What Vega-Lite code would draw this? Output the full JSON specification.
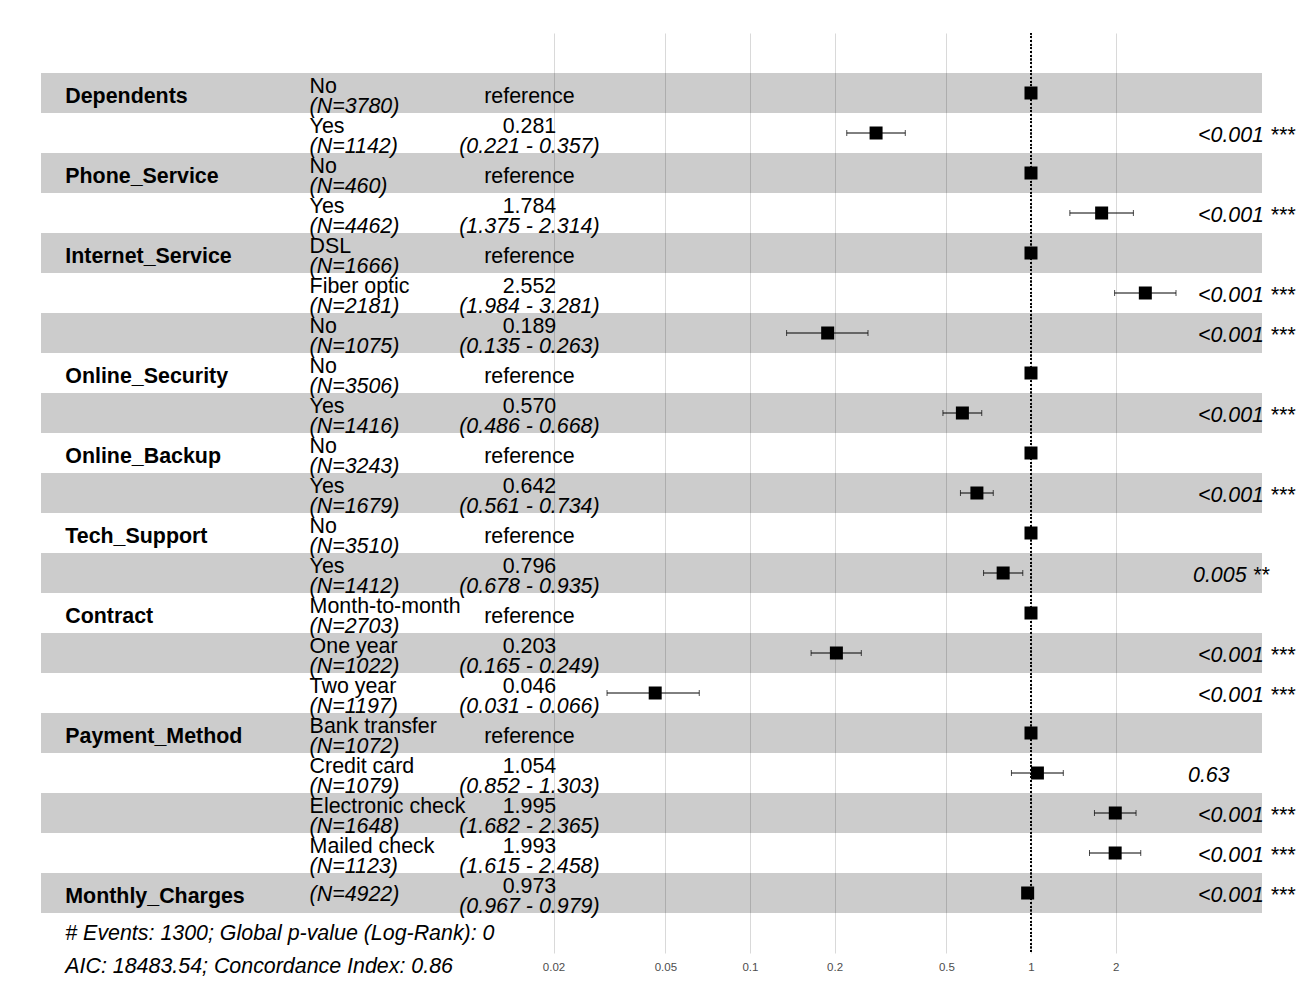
{
  "$schema": "https://vega.github.io/schema/vega-lite/v6.json",
  "autosize": {"type": "none"},
  "padding": {"left": 41, "top": 33, "right": 38, "bottom": 47},
  "width": 1221,
  "height": 920,
  "background": "white",
  "config": {
    "view": {"stroke": null},
    "font": "Liberation Sans",
    "text": {"font": "Liberation Sans", "fontSize": 21.4, "color": "black", "baseline": "alphabetic"}
  },
  "datasets": {
    "rows": [
      {"term": "Dependents No", "var": "Dependents", "level": "No", "N": "(N=3780)", "hr": 1, "lo": null, "hi": null, "ci": "", "p": ""},
      {"term": "Dependents Yes", "var": "", "level": "Yes", "N": "(N=1142)", "hr": 0.281, "lo": 0.221, "hi": 0.357, "ci": "(0.221 - 0.357)", "p": "<0.001 ***"},
      {"term": "Phone_Service No", "var": "Phone_Service", "level": "No", "N": "(N=460)", "hr": 1, "lo": null, "hi": null, "ci": "", "p": ""},
      {"term": "Phone_Service Yes", "var": "", "level": "Yes", "N": "(N=4462)", "hr": 1.784, "lo": 1.375, "hi": 2.314, "ci": "(1.375 - 2.314)", "p": "<0.001 ***"},
      {"term": "Internet_Service DSL", "var": "Internet_Service", "level": "DSL", "N": "(N=1666)", "hr": 1, "lo": null, "hi": null, "ci": "", "p": ""},
      {"term": "Internet_Service Fiber optic", "var": "", "level": "Fiber optic", "N": "(N=2181)", "hr": 2.552, "lo": 1.984, "hi": 3.281, "ci": "(1.984 - 3.281)", "p": "<0.001 ***"},
      {"term": "Internet_Service No", "var": "", "level": "No", "N": "(N=1075)", "hr": 0.189, "lo": 0.135, "hi": 0.263, "ci": "(0.135 - 0.263)", "p": "<0.001 ***"},
      {"term": "Online_Security No", "var": "Online_Security", "level": "No", "N": "(N=3506)", "hr": 1, "lo": null, "hi": null, "ci": "", "p": ""},
      {"term": "Online_Security Yes", "var": "", "level": "Yes", "N": "(N=1416)", "hr": 0.570, "lo": 0.486, "hi": 0.668, "ci": "(0.486 - 0.668)", "p": "<0.001 ***"},
      {"term": "Online_Backup No", "var": "Online_Backup", "level": "No", "N": "(N=3243)", "hr": 1, "lo": null, "hi": null, "ci": "", "p": ""},
      {"term": "Online_Backup Yes", "var": "", "level": "Yes", "N": "(N=1679)", "hr": 0.642, "lo": 0.561, "hi": 0.734, "ci": "(0.561 - 0.734)", "p": "<0.001 ***"},
      {"term": "Tech_Support No", "var": "Tech_Support", "level": "No", "N": "(N=3510)", "hr": 1, "lo": null, "hi": null, "ci": "", "p": ""},
      {"term": "Tech_Support Yes", "var": "", "level": "Yes", "N": "(N=1412)", "hr": 0.796, "lo": 0.678, "hi": 0.935, "ci": "(0.678 - 0.935)", "p": "0.005 **"},
      {"term": "Contract Month-to-month", "var": "Contract", "level": "Month-to-month", "N": "(N=2703)", "hr": 1, "lo": null, "hi": null, "ci": "", "p": ""},
      {"term": "Contract One year", "var": "", "level": "One year", "N": "(N=1022)", "hr": 0.203, "lo": 0.165, "hi": 0.249, "ci": "(0.165 - 0.249)", "p": "<0.001 ***"},
      {"term": "Contract Two year", "var": "", "level": "Two year", "N": "(N=1197)", "hr": 0.046, "lo": 0.031, "hi": 0.066, "ci": "(0.031 - 0.066)", "p": "<0.001 ***"},
      {"term": "Payment_Method Bank transfer", "var": "Payment_Method", "level": "Bank transfer", "N": "(N=1072)", "hr": 1, "lo": null, "hi": null, "ci": "", "p": ""},
      {"term": "Payment_Method Credit card", "var": "", "level": "Credit card", "N": "(N=1079)", "hr": 1.054, "lo": 0.852, "hi": 1.303, "ci": "(0.852 - 1.303)", "p": "0.63"},
      {"term": "Payment_Method Electronic check", "var": "", "level": "Electronic check", "N": "(N=1648)", "hr": 1.995, "lo": 1.682, "hi": 2.365, "ci": "(1.682 - 2.365)", "p": "<0.001 ***"},
      {"term": "Payment_Method Mailed check", "var": "", "level": "Mailed check", "N": "(N=1123)", "hr": 1.993, "lo": 1.615, "hi": 2.458, "ci": "(1.615 - 2.458)", "p": "<0.001 ***"},
      {"term": "Monthly_Charges", "var": "Monthly_Charges", "level": "", "N": "(N=4922)", "hr": 0.973, "lo": 0.967, "hi": 0.979, "ci": "(0.967 - 0.979)", "p": "<0.001 ***"}
    ],
    "footer": [
      {"note": "# Events: 1300; Global p-value (Log-Rank): 0\nAIC: 18483.54; Concordance Index: 0.86"}
    ]
  },
  "data": {"name": "rows"},
  "layer": [
    {
      "transform": [
        {"window": [{"op": "row_number", "as": "rn"}]},
        {"filter": "datum.rn % 2 == 1"}
      ],
      "mark": {"type": "rect", "fill": "black", "opacity": 0.2},
      "encoding": {
        "x": {
          "datum": 0.0003,
          "type": "quantitative",
          "scale": {"type": "log", "domain": [0.0003, 6.638], "nice": false, "zero": false},
          "axis": {
            "values": [0.02, 0.05, 0.1, 0.2, 0.5, 1, 2],
            "format": "~g",
            "title": null,
            "ticks": false,
            "domain": false,
            "grid": true,
            "gridColor": "#d9d9d9",
            "gridWidth": 1,
            "labelFont": "Liberation Sans",
            "labelFontSize": 11.5,
            "labelColor": "#4d4d4d",
            "labelPadding": 8
          }
        },
        "x2": {"datum": 6.638},
        "y": {
          "field": "term",
          "type": "nominal",
          "sort": null,
          "axis": null,
          "scale": {
            "domain": ["Dependents No", "Dependents Yes", "Phone_Service No", "Phone_Service Yes", "Internet_Service DSL", "Internet_Service Fiber optic", "Internet_Service No", "Online_Security No", "Online_Security Yes", "Online_Backup No", "Online_Backup Yes", "Tech_Support No", "Tech_Support Yes", "Contract Month-to-month", "Contract One year", "Contract Two year", "Payment_Method Bank transfer", "Payment_Method Credit card", "Payment_Method Electronic check", "Payment_Method Mailed check", "Monthly_Charges"],
            "paddingInner": 0,
            "paddingOuter": 1
          }
        }
      }
    },
    {
      "mark": {"type": "rule", "color": "black", "strokeWidth": 1, "strokeDash": [1.2, 2.5]},
      "encoding": {"x": {"datum": 1}}
    },
    {
      "transform": [{"filter": "datum.lo != null"}],
      "mark": {"type": "rule", "color": "black", "strokeWidth": 1},
      "encoding": {
        "x": {"field": "lo", "type": "quantitative"},
        "x2": {"field": "hi"},
        "y": {"field": "term", "type": "nominal", "sort": null}
      }
    },
    {
      "transform": [{"filter": "datum.lo != null"}],
      "mark": {"type": "tick", "color": "black", "thickness": 1, "size": 6, "orient": "vertical"},
      "encoding": {
        "x": {"field": "lo", "type": "quantitative"},
        "y": {"field": "term", "type": "nominal", "sort": null}
      }
    },
    {
      "transform": [{"filter": "datum.lo != null"}],
      "mark": {"type": "tick", "color": "black", "thickness": 1, "size": 6, "orient": "vertical"},
      "encoding": {
        "x": {"field": "hi", "type": "quantitative"},
        "y": {"field": "term", "type": "nominal", "sort": null}
      }
    },
    {
      "mark": {"type": "square", "filled": true, "color": "black", "size": 169, "opacity": 1},
      "encoding": {
        "x": {"field": "hr", "type": "quantitative"},
        "y": {"field": "term", "type": "nominal", "sort": null}
      }
    },
    {
      "transform": [{"filter": "datum.var != ''"}],
      "mark": {"type": "text", "fontWeight": "bold", "align": "left", "dy": 10},
      "encoding": {
        "x": {"datum": 0.000366},
        "y": {"field": "term", "type": "nominal", "sort": null},
        "text": {"field": "var"}
      }
    },
    {
      "transform": [{"filter": "datum.level != ''"}],
      "mark": {"type": "text", "align": "left", "dy": -0.5},
      "encoding": {
        "x": {"datum": 0.00271},
        "y": {"field": "term", "type": "nominal", "sort": null},
        "text": {"field": "level"}
      }
    },
    {
      "transform": [{"filter": "datum.level != ''"}],
      "mark": {"type": "text", "align": "left", "fontStyle": "italic", "dy": 19.5},
      "encoding": {
        "x": {"datum": 0.00271},
        "y": {"field": "term", "type": "nominal", "sort": null},
        "text": {"field": "N"}
      }
    },
    {
      "transform": [{"filter": "datum.level == ''"}],
      "mark": {"type": "text", "align": "left", "fontStyle": "italic", "dy": 8},
      "encoding": {
        "x": {"datum": 0.00271},
        "y": {"field": "term", "type": "nominal", "sort": null},
        "text": {"field": "N"}
      }
    },
    {
      "transform": [{"filter": "datum.lo == null"}],
      "mark": {"type": "text", "align": "center", "dy": 10, "text": "reference"},
      "encoding": {
        "x": {"datum": 0.01641},
        "y": {"field": "term", "type": "nominal", "sort": null}
      }
    },
    {
      "transform": [{"filter": "datum.lo != null"}],
      "mark": {"type": "text", "align": "center", "dy": 0},
      "encoding": {
        "x": {"datum": 0.01641},
        "y": {"field": "term", "type": "nominal", "sort": null},
        "text": {"field": "hr", "type": "quantitative", "format": ".3f"}
      }
    },
    {
      "transform": [{"filter": "datum.lo != null"}],
      "mark": {"type": "text", "align": "center", "fontStyle": "italic", "dy": 20},
      "encoding": {
        "x": {"datum": 0.01641},
        "y": {"field": "term", "type": "nominal", "sort": null},
        "text": {"field": "ci"}
      }
    },
    {
      "transform": [{"filter": "datum.p == '<0.001 ***'"}],
      "mark": {"type": "text", "align": "left", "fontStyle": "italic", "dy": 9, "dx": 22},
      "encoding": {
        "x": {"datum": 3.281},
        "y": {"field": "term", "type": "nominal", "sort": null},
        "text": {"field": "p"}
      }
    },
    {
      "transform": [{"filter": "datum.p == '0.005 **'"}],
      "mark": {"type": "text", "align": "left", "fontStyle": "italic", "dy": 9, "dx": 17},
      "encoding": {
        "x": {"datum": 3.281},
        "y": {"field": "term", "type": "nominal", "sort": null},
        "text": {"field": "p"}
      }
    },
    {
      "transform": [{"filter": "datum.p == '0.63'"}],
      "mark": {"type": "text", "align": "left", "fontStyle": "italic", "dy": 9, "dx": 12},
      "encoding": {
        "x": {"datum": 3.281},
        "y": {"field": "term", "type": "nominal", "sort": null},
        "text": {"field": "p"}
      }
    },
    {
      "data": {"name": "footer"},
      "mark": {"type": "text", "align": "left", "fontStyle": "italic", "dy": 47, "lineBreak": "\n", "lineHeight": 32.5},
      "encoding": {
        "x": {"datum": 0.000366},
        "y": {"datum": "Monthly_Charges"},
        "text": {"field": "note"}
      }
    }
  ]
}
